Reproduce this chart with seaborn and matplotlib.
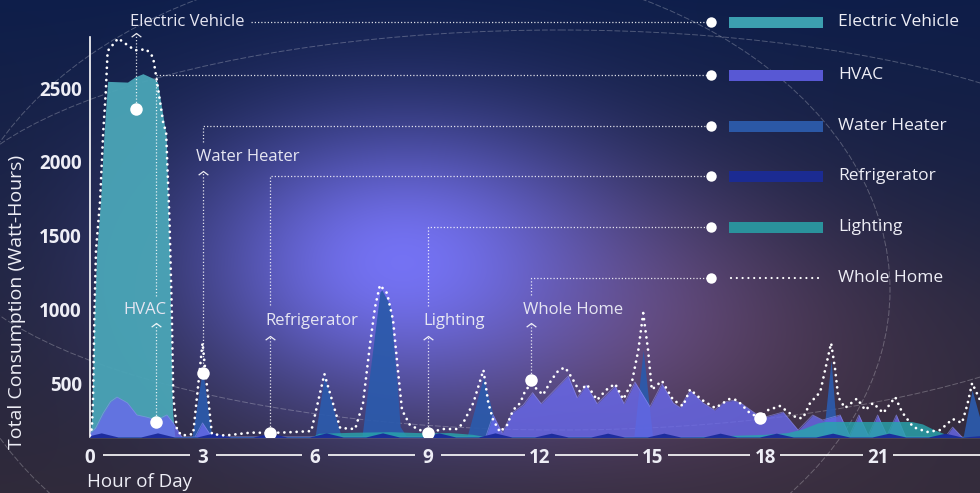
import numpy as np
import pandas as pd
import matplotlib
matplotlib.use("Agg")
import matplotlib.pyplot as plt
import seaborn as sns
from matplotlib.path import Path
from matplotlib.patches import Ellipse, Rectangle

# ---------------- data (hour of day, watt-hours) ----------------
ev_hours = [0.00, 0.05, 0.10, 0.18, 0.28, 0.37, 0.42, 0.47, 1.00, 1.20, 1.41, 1.60, 1.73,
            1.80, 2.03, 2.12, 2.20, 2.26]
ev_values = [140, 300, 900, 1400, 1741, 2180, 2363, 2545, 2540, 2575, 2597, 2575, 2560,
             2540, 2180, 1404, 320, 140]

hvac_hours = [0.00, 0.15, 0.35, 0.55, 0.72, 0.90, 1.00, 1.25, 1.50, 1.78, 2.05, 2.22, 2.45,
              2.80, 3.00, 3.25, 10.55, 10.75, 10.99, 11.25, 11.55, 11.80, 12.03, 12.75,
              12.99, 13.23, 13.52, 14.00, 14.24, 14.53, 14.93, 15.25, 15.55, 15.73, 16.00,
              16.35, 16.65, 16.90, 17.15, 17.35, 17.80, 18.00, 18.48, 18.88, 19.27, 19.53,
              20.00, 20.25, 20.50, 20.75, 21.00, 21.25, 21.50, 21.75, 22.80, 23.00, 23.25]
hvac_values = [165, 200, 300, 380, 410, 385, 370, 289, 275, 255, 289, 235, 140,
               140, 235, 140, 140, 289, 167, 302, 356, 440, 365, 552,
               405, 491, 365, 485, 365, 512, 345, 500, 370, 340, 455,
               370, 322, 376, 388, 370, 289, 275, 309, 187, 289, 255,
               289, 150, 289, 150, 289, 150, 289, 140, 140, 207, 140]

water_hours = [0.00, 2.72, 3.00, 3.25, 6.00, 6.25, 6.70, 7.25, 7.73, 7.78, 8.00, 8.18, 8.27,
               8.45, 10.05, 10.49, 10.90, 14.50, 14.75, 15.00, 19.55, 19.76, 19.92, 23.28,
               23.52, 23.80]
water_values = [140, 140, 600, 140, 140, 552, 140, 140, 1120, 1135, 1032, 525, 210,
                140, 140, 545, 140, 140, 728, 140, 140, 660, 140, 140,
                458, 200]

fridge_hours = [0.00, 0.30, 0.75, 1.35, 1.80, 2.25, 2.85, 3.30, 3.75, 4.35, 4.80, 5.25,
                5.85, 6.30, 6.75, 7.35, 7.80, 8.25, 8.85, 9.30, 9.75, 10.35, 10.80, 11.25,
                11.85, 12.30, 12.75, 13.35, 13.80, 14.25, 14.85, 15.30, 15.75, 16.35, 16.80,
                17.25, 17.85, 18.30, 18.75, 19.35, 19.80, 20.25, 20.85, 21.30, 21.75, 22.35,
                22.80, 23.25, 23.80]
fridge_values = [150, 168, 140, 140, 168, 140, 140, 168, 140, 140, 168, 140,
                 140, 168, 140, 140, 168, 140, 140, 168, 140, 140, 168, 140,
                 140, 166, 140, 140, 166, 140, 140, 166, 140, 140, 166,
                 140, 140, 166, 140, 140, 166, 140, 140, 166, 140, 140,
                 166, 140, 150]

light_hours = [0.00, 5.90, 6.10, 7.00, 8.00, 9.00, 9.60, 10.20, 10.60, 16.00, 17.00, 18.00,
               18.60, 19.00, 19.40, 19.60, 21.90, 22.20, 22.50, 22.90, 23.20, 23.80]
light_values = [140, 140, 165, 172, 176, 168, 170, 158, 140, 140, 150, 158,
                170, 195, 235, 245, 245, 228, 190, 150, 140, 140]

home_hours = [0.00, 0.05, 0.08, 0.12, 0.16, 0.27, 0.35, 0.42, 0.47, 0.75, 1.00, 1.20, 1.50,
              1.68, 1.79, 1.87, 1.95, 2.03, 2.12, 2.18, 2.22, 2.32, 2.45, 2.75, 3.00, 3.25,
              3.60, 4.30, 4.80, 5.30, 5.90, 6.25, 6.67, 7.07, 7.28, 7.47, 7.60, 7.73, 7.92,
              8.08, 8.21, 8.32, 8.53, 8.80, 9.00, 9.41, 9.79, 9.95, 10.22, 10.49, 10.62,
              10.75, 10.93, 11.12, 11.28, 11.47, 11.60, 11.76, 12.08, 12.30, 12.50, 12.67,
              12.85, 13.05, 13.25, 13.52, 13.76, 14.00, 14.22, 14.45, 14.62, 14.75, 14.88,
              14.98, 15.25, 15.55, 15.81, 16.00, 16.32, 16.67, 17.05, 17.25, 17.60, 17.88,
              18.08, 18.40, 18.61, 18.85, 19.01, 19.20, 19.47, 19.60, 19.76, 19.87, 19.95,
              20.13, 20.45, 20.67, 20.88, 21.15, 21.47, 21.65, 21.95, 22.32, 22.67, 23.00,
              23.25, 23.39, 23.52, 23.73]
home_values = [150, 200, 390, 1000, 1404, 1741, 2194, 2471, 2750, 2836, 2790, 2755, 2762,
               2710, 2538, 2404, 2268, 2200, 1600, 1000, 410, 187, 150, 160, 775, 160,
               150, 170, 167, 172, 180, 566, 201, 194, 370, 775, 1018, 1167, 1113,
               930, 593, 322, 221, 187, 167, 194, 194, 235, 370, 593, 370,
               255, 174, 221, 322, 370, 450, 500, 425, 525, 593, 610,
               540, 450, 495, 390, 458, 500, 395, 512, 728, 978, 728,
               460, 520, 390, 350, 462, 390, 336, 397, 390, 300, 268,
               322, 350, 309, 268, 268, 370, 444, 593, 775, 593, 410,
               336, 400, 322, 370, 302, 410, 309, 207, 174, 187, 262,
               235, 356, 505, 390]

# highlighted points on the curves
marker_hours = [1.23, 1.76, 3.00, 4.80, 9.00, 11.76, 17.87]
marker_values = [2356, 241, 572, 167, 167, 525, 268]

tick_hours = [0, 3, 6, 9, 12, 15, 18, 21]
y_ticks = [500, 1000, 1500, 2000, 2500]

series_names = ["Electric Vehicle", "HVAC", "Water Heater", "Refrigerator", "Lighting", "Whole Home"]
legend_colors = ["#3c9fb0", "#5858d4", "#2b58a6", "#1b2b92", "#2a929c", None]

# ---------------- style ----------------
sns.set_theme(style="white")
plt.rcParams["font.family"] = ["Open Sans", "DejaVu Sans"]
TXT = "#eeeef6"

W, H = 980, 493
fig = plt.figure(figsize=(W / 100, H / 100), dpi=100)

# background glow
yy, xx = np.mgrid[0:H, 0:W].astype(float)
t = (yy / H)[..., None]
top_c = np.array([14, 30, 74], float)
bot_c = np.array([48, 42, 58], float)
img = top_c * (1 - t) + bot_c * t


def blend(base, color, w):
    return base * (1 - w[..., None]) + np.array(color, float) * w[..., None]


w_brown = 0.45 * np.exp(-((xx - 820) / 260) ** 2 - ((yy - 380) / 160) ** 2)
img = blend(img, (70, 52, 66), w_brown)
w_mauve = 0.6 * np.exp(-((xx - 630) / 200) ** 2 - ((yy - 320) / 130) ** 2)
img = blend(img, (125, 82, 125), w_mauve)
w_glow = 0.95 * np.exp(-((xx - 400) / 215) ** 2 - ((yy - 262) / 145) ** 2)
img = blend(img, (120, 118, 252), w_glow)
w_dark = 0.4 * np.clip((xx - 760) / 220, 0, 1) * np.clip(1 - yy / 300, 0, 1)
img = blend(img, (16, 28, 70), w_dark)
img = np.clip(img, 0, 255).astype(np.uint8)

bg = fig.add_axes([0, 0, 1, 1])
bg.imshow(img, extent=[0, W, H, 0], aspect="auto", interpolation="bilinear")
bg.set_xlim(0, W)
bg.set_ylim(H, 0)
bg.axis("off")
for (cx, cy, ew, eh, ang) in [(560, 230, 1240, 400, 0), (420, 290, 940, 660, 0)]:
    bg.add_patch(Ellipse((cx, cy), ew, eh, angle=ang, fill=False, ec="white",
                         lw=0.7, alpha=0.25, ls=(0, (6, 2))))

# ---------------- main chart ----------------
ax = fig.add_axes([90 / W, (H - 437) / H, (W - 90) / W, 400 / H])
ax.patch.set_alpha(0)
ax.set_xlim(0, 23.73)
ax.set_ylim(140, 2845)

ax.fill_between(ev_hours, 0, ev_values, color="#4aa4b6", alpha=0.96, lw=0, zorder=2)
ax.fill_between(water_hours, 0, water_values, color="#2c5aab", alpha=0.94, lw=0, zorder=3)
ax.fill_between(hvac_hours, 0, hvac_values, color="#6969ec", alpha=0.8, lw=0, zorder=4)
ax.plot(hvac_hours, hvac_values, color="#9494f4", lw=0.6, alpha=0.6, zorder=4)
ax.fill_between(light_hours, 0, light_values, color="#28a4ac", alpha=0.82, lw=0, zorder=5)
ax.fill_between(fridge_hours, 0, fridge_values, color="#1a2a9a", alpha=0.95, lw=0, zorder=6)

home_df = pd.DataFrame({"hour": home_hours, "wh": home_values})
sns.lineplot(data=home_df, x="hour", y="wh", ax=ax, color="white", lw=2.0,
             linestyle=(0, (0.01, 2.2)), dash_capstyle="round", zorder=8, sort=False)

ax.plot(marker_hours, marker_values, "o", color="white", ms=9, mew=0, zorder=10)

ax.set_xlabel("")
ax.set_ylabel("")
ax.set_xticks(tick_hours)
ax.set_xticklabels([str(h) for h in tick_hours])
ax.set_yticks(y_ticks)
ax.set_yticklabels([str(v) for v in y_ticks])
ax.tick_params(axis="both", length=0, labelcolor=TXT, labelsize=13.5)
ax.tick_params(axis="x", pad=8)
ax.tick_params(axis="y", pad=6)
for lab in ax.get_xticklabels() + ax.get_yticklabels():
    lab.set_fontweight("bold")
for side in ["top", "right"]:
    ax.spines[side].set_visible(False)
ax.spines["left"].set_color("white")
ax.spines["left"].set_linewidth(1.2)
ax.spines["bottom"].set_color("#9a98b4")
ax.spines["bottom"].set_linewidth(1.0)
ax.grid(False)

# ---------------- overlay: axis lines, labels, legend ----------------
ov = fig.add_axes([0, 0, 1, 1], zorder=20)
ov.set_xlim(0, W)
ov.set_ylim(H, 0)
ov.axis("off")
ov.patch.set_alpha(0)


def to_px(h, v):
    dx, dy = ax.transData.transform((h, v))
    return dx, H - dy


# separators between hour labels
tick_px = [to_px(h, 140)[0] for h in tick_hours]
for i, h in enumerate(tick_hours):
    g0 = 13 if h < 10 else 15
    x0 = tick_px[i] + g0
    if i + 1 < len(tick_hours):
        g1 = 13 if tick_hours[i + 1] < 10 else 15
        x1 = tick_px[i + 1] - g1
    else:
        x1 = W
    ov.plot([x0, x1], [455, 455], color="white", lw=1.2, solid_capstyle="butt")

ov.text(87, 482, "Hour of Day", color=TXT, fontsize=13.5, va="center", ha="left")
ov.text(17, 302, "Total Consumption (Watt-Hours)", color=TXT, fontsize=14,
        rotation=90, va="center", ha="center")

leader_kw = dict(color="white", lw=0.9, alpha=0.85, ls=(0, (1, 1.6)))
chevron = Path([(-1.0, -0.75), (0.0, 0.0), (1.0, -0.75)],
               [Path.MOVETO, Path.LINETO, Path.LINETO])

legend_rows = [22, 75, 126, 176, 227, 278]
dot_x, bar_x0, bar_x1, text_x = 711, 729, 823, 838

# (series label, label offset from leader, label y, tip y, upper leader start y)
callouts = [
    (series_names[0], 6, 22, 33, None),
    (series_names[1], 33, 310, 323, 296),
    (series_names[2], 7, 157, 171, 142),
    (series_names[3], 5, 321, 336, 305),
    (series_names[4], 4, 321, 336, 306),
    (series_names[5], 8, 310, 323, 295),
]

for i, (name, off, ly, tip, upper) in enumerate(callouts):
    px, py = to_px(marker_hours[i], marker_values[i])
    ov.plot([px, px], [py, tip + 1], **leader_kw)
    ov.plot([px], [tip], marker=chevron, ms=7, mew=0.9, mec="white", mfc="none",
            alpha=0.9, ls="none")
    txt = ov.text(px - off, ly, name, color="#e6e6f2", fontsize=12, va="center", ha="left")
    row = legend_rows[i]
    if upper is None:
        fig.canvas.draw()
        bb = txt.get_window_extent()
        ov.plot([bb.x1 + 6, dot_x], [row, row], **leader_kw)
    else:
        ov.plot([px, px, dot_x], [upper, row, row], **leader_kw)

for i, name in enumerate(series_names):
    row = legend_rows[i]
    ov.plot([dot_x], [row], "o", color="white", ms=7.5, mew=0)
    if legend_colors[i] is not None:
        ov.add_patch(Rectangle((bar_x0, row - 5.5), bar_x1 - bar_x0, 11,
                               color=legend_colors[i], lw=0))
    else:
        ov.plot([bar_x0 + 2, bar_x1 - 2], [row, row], color="white", lw=1.6,
                ls=(0, (0.01, 2.6)), dash_capstyle="round")
    ov.text(text_x, row, name, color=TXT, fontsize=12.5, va="center", ha="left")

fig.savefig("out.png", dpi=100)
